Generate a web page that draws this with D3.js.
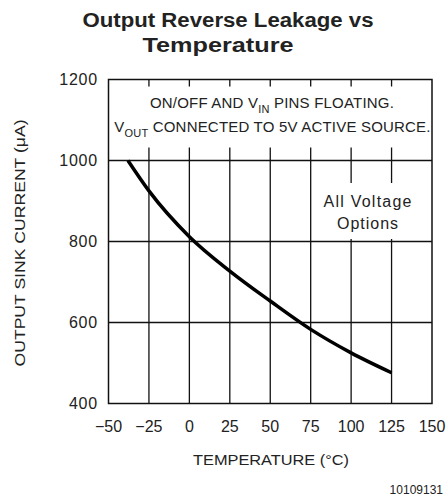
<!DOCTYPE html>
<html><head><meta charset="utf-8">
<script src="https://cdn.jsdelivr.net/npm/d3@7"></script>
<style>body{margin:0;background:#fff}svg{display:block}</style>
</head><body><div id="chart"></div>
<script>
const temps = [-38, -25, 0, 25, 50, 75, 100, 125];
const current = [1000, 925, 812, 727, 653, 583, 525, 476];
const xTicks = [-50, -25, 0, 25, 50, 75, 100, 125, 150];
const yTicks = [400, 600, 800, 1000, 1200];
const titleLines = ["Output Reverse Leakage vs", "Temperature"];
const xTitle = "TEMPERATURE (°C)";
const yTitle = "OUTPUT SINK CURRENT (μA)";
const figId = "10109131";

const W = 447, H = 496;
const m = {left:108.5, top:79.5, right:15, bottom:92.5};
const iw = W - m.left - m.right, ih = H - m.top - m.bottom;
const font = "'Liberation Sans', Arial, sans-serif";

const svg = d3.select("#chart").append("svg").attr("width", W).attr("height", H);
const x = d3.scaleLinear().domain([-50,150]).range([m.left, m.left+iw]);
const y = d3.scaleLinear().domain([400,1200]).range([m.top+ih, m.top]);

// title
svg.append("text").attr("x",228).attr("y",27).attr("text-anchor","middle")
  .attr("font-family",font).attr("font-weight","bold").attr("font-size",19.5)
  .attr("fill","#222").attr("textLength",291).attr("lengthAdjust","spacingAndGlyphs").text(titleLines[0]);
svg.append("text").attr("x",218).attr("y",52).attr("text-anchor","middle")
  .attr("font-family",font).attr("font-weight","bold").attr("font-size",19.5)
  .attr("fill","#222").attr("textLength",151).attr("lengthAdjust","spacingAndGlyphs").text(titleLines[1]);

// grid
const g = svg.append("g");
g.selectAll(".vg").data(xTicks.slice(1,-1)).join("line")
  .attr("x1",d=>x(d)).attr("x2",d=>x(d)).attr("y1",y(1200)).attr("y2",y(400))
  .attr("stroke","#111").attr("stroke-width",1.3);
g.selectAll(".hg").data(yTicks.slice(1,-1)).join("line")
  .attr("x1",x(-50)).attr("x2",x(150)).attr("y1",d=>y(d)).attr("y2",d=>y(d))
  .attr("stroke","#111").attr("stroke-width",1.3);

// white boxes behind annotations
g.append("rect").attr("x",x(-50)+1).attr("y",86.5).attr("width",iw-2).attr("height",61).attr("fill","#fff");
g.append("rect").attr("x",322).attr("y",183).attr("width",100).attr("height",56).attr("fill","#fff");

// frame
g.append("rect").attr("x",x(-50)).attr("y",y(1200)).attr("width",iw).attr("height",ih)
  .attr("fill","none").attr("stroke","#111").attr("stroke-width",1.5);

// curve
const line = d3.line().x((d,i)=>x(temps[i])).y(d=>y(d)).curve(d3.curveMonotoneX);
svg.append("path").datum(current).attr("d",line).attr("fill","none")
  .attr("stroke","#000").attr("stroke-width",3.5).attr("stroke-linecap","butt");

// axes labels
const tickFont = 16;
svg.selectAll(".yl").data(yTicks).join("text")
  .attr("x",98).attr("y",d=>y(d)+5.5).attr("text-anchor","end")
  .attr("font-family",font).attr("font-size",tickFont).attr("fill","#222")
  .attr("letter-spacing",0.8)
  .text(d=>d);
svg.selectAll(".xl").data(xTicks).join("text")
  .attr("x",d=>x(d)).attr("y",432).attr("text-anchor","middle")
  .attr("font-family",font).attr("font-size",tickFont).attr("fill","#222")
  .text(d=>d<0?"\u2212"+Math.abs(d):d);

svg.append("text").attr("x",271).attr("y",465).attr("text-anchor","middle")
  .attr("font-family",font).attr("font-size",15).attr("fill","#222")
  .attr("textLength",156).attr("lengthAdjust","spacingAndGlyphs").text(xTitle);
svg.append("text").attr("transform","translate(25,243) rotate(-90)").attr("text-anchor","middle")
  .attr("font-family",font).attr("font-size",15).attr("fill","#222")
  .attr("textLength",247).attr("lengthAdjust","spacingAndGlyphs").text(yTitle);

svg.append("text").attr("x",443).attr("y",494).attr("text-anchor","end")
  .attr("font-family",font).attr("font-size",12).attr("fill","#222").text(figId);

// annotations
function sub(t, main, subs, rest){
  t.append("tspan").text(main);
  t.append("tspan").attr("font-size",11).attr("dy",4.5).text(subs);
  t.append("tspan").attr("dy",-4.5).text(rest);
}
const a1 = svg.append("text").attr("x",272).attr("y",108).attr("text-anchor","middle")
  .attr("font-family",font).attr("font-size",15).attr("fill","#222").attr("letter-spacing",0.2);
sub(a1,"ON/OFF AND V","IN"," PINS FLOATING.");
const a2 = svg.append("text").attr("x",272.5).attr("y",132).attr("text-anchor","middle")
  .attr("font-family",font).attr("font-size",15).attr("fill","#222").attr("letter-spacing",0.2);
sub(a2,"V","OUT"," CONNECTED TO 5V ACTIVE SOURCE.");

svg.append("text").attr("x",367.5).attr("y",206.5).attr("text-anchor","middle")
  .attr("font-family",font).attr("font-size",16).attr("fill","#222")
  .attr("textLength",88).attr("lengthAdjust","spacing").text("All Voltage");
svg.append("text").attr("x",367.5).attr("y",228.5).attr("text-anchor","middle")
  .attr("font-family",font).attr("font-size",16).attr("fill","#222")
  .attr("textLength",61).attr("lengthAdjust","spacing").text("Options");
</script></body></html>
